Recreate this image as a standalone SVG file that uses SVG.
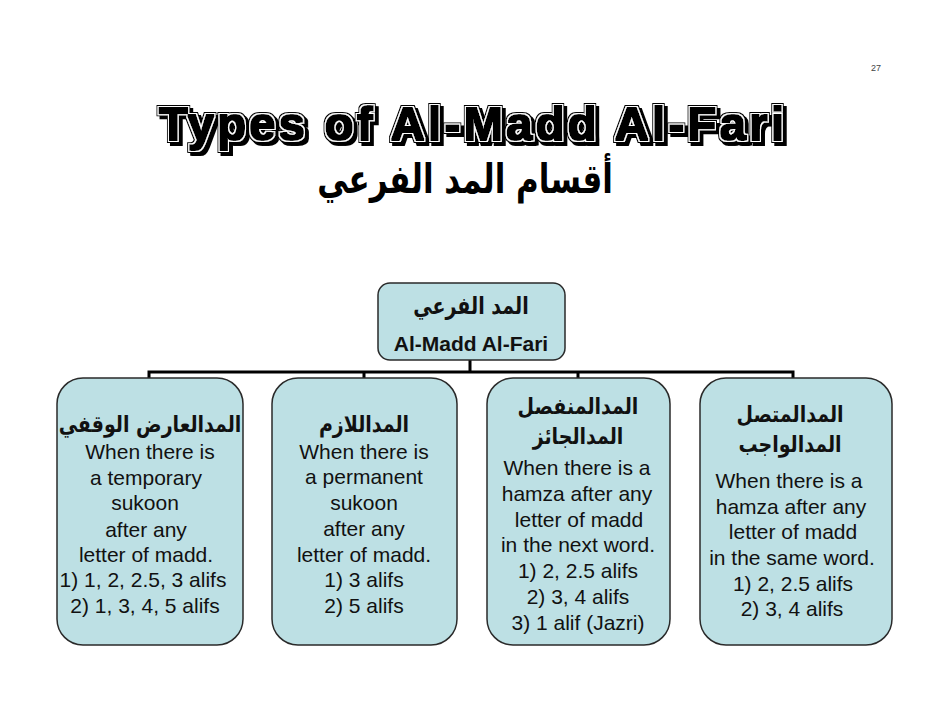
<svg xmlns="http://www.w3.org/2000/svg" width="942" height="728" viewBox="0 0 942 728">
<defs>
<filter id="emb" x="-5%" y="-30%" width="110%" height="160%">
<feMorphology in="SourceAlpha" operator="dilate" radius="2.7" result="outer"/>
<feOffset in="outer" dx="2.5" dy="2.5" result="shadow"/>
<feMorphology in="SourceAlpha" operator="dilate" radius="1.7" result="w0"/>
<feFlood flood-color="#fff"/>
<feComposite operator="in" in2="w0" result="white"/>
<feMorphology in="SourceAlpha" operator="dilate" radius="0.7" result="inner"/>
<feMerge><feMergeNode in="shadow"/><feMergeNode in="outer"/><feMergeNode in="white"/><feMergeNode in="inner"/></feMerge>
</filter>
</defs>
<style>
.box{fill:#bde0e4;stroke:#2a2a2a;stroke-width:1.5}
.en{font-family:"Liberation Sans",Arial,sans-serif;font-size:21px;fill:#111;text-anchor:middle}
.ar{font-family:"DejaVu Sans",sans-serif;font-weight:bold;font-size:19px;fill:#111;text-anchor:middle}
.conn{stroke:#000;stroke-width:3;fill:none}
.ttl{font-family:"Liberation Sans",Arial,sans-serif;font-weight:bold;font-size:47px}
</style>
<rect width="942" height="728" fill="#fff"/>
<text x="876" y="71" font-family="Liberation Sans,Arial,sans-serif" font-size="9" fill="#444" text-anchor="middle">27</text>
<g id="title">
<text class="ttl" x="159" y="140" textLength="625" lengthAdjust="spacing" fill="#000" filter="url(#emb)">Types of Al-Madd Al-Fari</text>
<g transform="translate(465,193) scale(1,1.3)"><text x="0" y="0" font-family="DejaVu Sans,sans-serif" font-weight="bold" font-size="31" fill="#000" text-anchor="middle">أقسام المد الفرعي</text></g>
</g>
<g id="connectors">
<path class="conn" d="M470 360 V372 M149 378 V372 H793 V378 M364 372 V378 M578 372 V378"/>
</g>
<g id="root">
<rect class="box" x="378" y="283" width="187" height="77" rx="12"/>
<g transform="translate(471,314) scale(1,1.25)"><text class="ar" x="0" y="0" font-size="26">المد الفرعي</text></g>
<text class="en" x="471" y="351" font-weight="bold" font-size="20">Al-Madd Al-Fari</text>
</g>
<g id="n1">
<rect class="box" x="57" y="378" width="186" height="267" rx="26"/>
<g transform="translate(150,432) scale(1,1.2)"><text class="ar" x="0" y="0">المدالعارض الوقفي</text></g>
<text class="en" x="150" y="459">When there is</text>
<text class="en" x="146" y="485">a temporary</text>
<text class="en" x="145" y="510">sukoon</text>
<text class="en" x="146" y="537">after any</text>
<text class="en" x="146" y="562">letter of madd.</text>
<text class="en" x="143" y="587">1) 1, 2, 2.5, 3 alifs</text>
<text class="en" x="145" y="613">2) 1, 3, 4, 5 alifs</text>
</g>
<g id="n2">
<rect class="box" x="272" y="378" width="185" height="267" rx="26"/>
<g transform="translate(364,432) scale(1,1.2)"><text class="ar" x="0" y="0">المداللازم</text></g>
<text class="en" x="364" y="459">When there is</text>
<text class="en" x="364" y="484">a permanent</text>
<text class="en" x="364" y="510">sukoon</text>
<text class="en" x="364" y="536">after any</text>
<text class="en" x="364" y="562">letter of madd.</text>
<text class="en" x="364" y="587">1) 3 alifs</text>
<text class="en" x="364" y="613">2) 5 alifs</text>
</g>
<g id="n3">
<rect class="box" x="487" y="378" width="183" height="267" rx="26"/>
<g transform="translate(578,414) scale(1,1.2)"><text class="ar" x="0" y="0">المدالمنفصل</text></g>
<g transform="translate(578,444) scale(1,1.2)"><text class="ar" x="0" y="0">المدالجائز</text></g>
<text class="en" x="577" y="475">When there is a</text>
<text class="en" x="577" y="501">hamza after any</text>
<text class="en" x="579" y="527">letter of madd</text>
<text class="en" x="578" y="552">in the next word.</text>
<text class="en" x="578" y="578">1) 2, 2.5 alifs</text>
<text class="en" x="578" y="604">2) 3, 4 alifs</text>
<text class="en" x="578" y="630">3) 1 alif (Jazri)</text>
</g>
<g id="n4">
<rect class="box" x="700" y="378" width="192" height="267" rx="26"/>
<g transform="translate(790,422) scale(1,1.2)"><text class="ar" x="0" y="0">المدالمتصل</text></g>
<g transform="translate(790,452) scale(1,1.2)"><text class="ar" x="0" y="0">المدالواجب</text></g>
<text class="en" x="789" y="488">When there is a</text>
<text class="en" x="791" y="514">hamza after any</text>
<text class="en" x="793" y="539">letter of madd</text>
<text class="en" x="792" y="565">in the same word.</text>
<text class="en" x="793" y="591">1) 2, 2.5 alifs</text>
<text class="en" x="792" y="616">2) 3, 4 alifs</text>
</g>
</svg>
